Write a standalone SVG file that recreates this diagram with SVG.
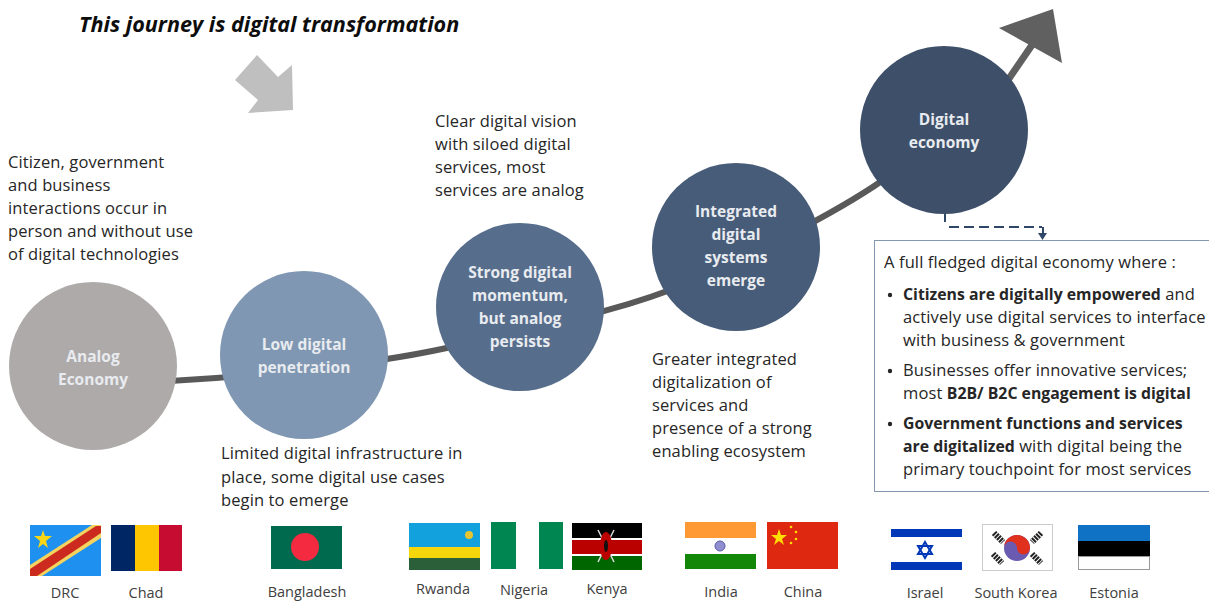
<svg xmlns="http://www.w3.org/2000/svg" width="1209" height="603" viewBox="0 0 1209 603">
<style>
text{font-family:"Open Sans","Noto Sans","DejaVu Sans",sans-serif;font-size:16.5px;letter-spacing:.12px;fill:#262626}
.n{font-weight:700;fill:#e8ebef;text-anchor:middle;font-size:15.5px;letter-spacing:0}
.c{font-size:14.5px;letter-spacing:0;fill:#404040;text-anchor:middle}
.b{font-weight:700;font-size:15.8px;letter-spacing:0}
.conn{fill:none;stroke:#595959;stroke-width:6}
</style>
<rect width="1209" height="603" fill="#fff"/>
<text id="title" x="79" y="32" style="font-size:21.6px;letter-spacing:0;font-weight:700;font-style:italic;fill:#0d0d0d">This journey is digital transformation</text>
<polygon id="down-arrow" points="257,55 235,80 258,100 248,113 293,110 292,65 278,77" fill="#bfbfbf"/>
<g id="connectors">
<path class="conn" d="M170 381C260 376 380 364 460 345S620 312 690 282S850 205 890 175"/>
<path class="conn" style="stroke-width:7;stroke:#606060" d="M1008 80L1032 45"/>
<polygon points="1053,9 999,28 1062,63" fill="#606060"/>
<path d="M945 213V222" fill="none" stroke="#2f4668" stroke-width="2"/>
<path d="M949 227H1042" fill="none" stroke="#2f4668" stroke-width="2" stroke-dasharray="10 5"/>
<path d="M1043 227V234" fill="none" stroke="#2f4668" stroke-width="2"/>
<polygon points="1038,233 1047,233 1042.500,240" fill="#2f4668"/>
</g>
<g id="node-analog"><circle cx="93" cy="366" r="84" fill="#aeaaaa"/><text class="n" x="93" y="362">Analog</text><text class="n" x="93" y="385">Economy</text></g>
<g id="node-low"><circle cx="304" cy="355" r="84" fill="#7f97b2"/><text class="n" x="304" y="350">Low digital</text><text class="n" x="304" y="373">penetration</text></g>
<g id="node-strong"><circle cx="520" cy="307" r="84" fill="#566d8c"/><text class="n" x="520" y="278">Strong digital</text><text class="n" x="520" y="301">momentum,</text><text class="n" x="520" y="324">but analog</text><text class="n" x="520" y="347">persists</text></g>
<g id="node-integrated"><circle cx="736" cy="247" r="84" fill="#475c78"/><text class="n" x="736" y="217">Integrated</text><text class="n" x="736" y="240">digital</text><text class="n" x="736" y="263">systems</text><text class="n" x="736" y="286">emerge</text></g>
<g id="node-digital"><circle cx="944" cy="130" r="84" fill="#3e5069"/><text class="n" x="944" y="125">Digital</text><text class="n" x="944" y="148">economy</text></g>
<g id="text-analog"><text x="8" y="168">Citizen, government</text><text x="8" y="191">and business</text><text x="8" y="214">interactions occur in</text><text x="8" y="237">person and without use</text><text x="8" y="260">of digital technologies</text></g>
<g id="text-low"><text x="221" y="459">Limited digital infrastructure in</text><text x="221" y="483">place, some digital use cases</text><text x="221" y="506">begin to emerge</text></g>
<g id="text-strong"><text x="435" y="127">Clear digital vision</text><text x="435" y="150">with siloed digital</text><text x="435" y="173">services, most</text><text x="435" y="196">services are analog</text></g>
<g id="text-integrated"><text x="652" y="365">Greater integrated</text><text x="652" y="388">digitalization of</text><text x="652" y="411">services and</text><text x="652" y="434">presence of a strong</text><text x="652" y="457">enabling ecosystem</text></g>
<g id="info-box"><rect x="874.500" y="240.500" width="340" height="251" fill="#fff" stroke="#8497b0"/>
<text x="884" y="268">A full fledged digital economy where :</text>
<circle cx="890" cy="295" r="2.200" fill="#262626"/><text x="903" y="300"><tspan class="b">Citizens are digitally empowered</tspan> and</text><text x="903" y="323">actively use digital services to interface</text><text x="903" y="346">with business &amp; government</text>
<circle cx="890" cy="371" r="2.200" fill="#262626"/><text x="903" y="376">Businesses offer innovative services;</text><text x="903" y="399">most <tspan class="b">B2B/ B2C engagement is digital</tspan></text>
<circle cx="890" cy="424" r="2.200" fill="#262626"/><text x="903" y="429" class="b">Government functions and services</text><text x="903" y="452"><tspan class="b">are digitalized</tspan> with digital being the</text><text x="903" y="475">primary touchpoint for most services</text></g>
<g id="flag-drc"><rect x="30" y="525" width="71" height="51" fill="#1e90f0"/><path d="M30 565L92 525H101V538L42 576H30Z" fill="#f4d35e"/><path d="M30 569L96 526H101V533L37 576H30Z" fill="#cc2a1e"/><polygon points="43,530 45,536 52,536 46,541 48,548 43,544 38,548 40,541 34,536 41,536" fill="#f7d618"/></g>
<g id="flag-chad"><rect x="111" y="525" width="24" height="46" fill="#002664"/><rect x="135" y="525" width="24" height="46" fill="#fec600"/><rect x="159" y="525" width="23" height="46" fill="#c60c30"/></g>
<g id="flag-bangladesh"><rect x="271" y="526" width="71" height="43" fill="#006a4e"/><ellipse cx="305" cy="547" rx="14" ry="14" fill="#f42a41"/></g>
<g id="flag-rwanda"><rect x="409" y="523" width="71" height="24" fill="#12a1dc"/><rect x="409" y="547" width="71" height="11" fill="#f5d60a"/><rect x="409" y="558" width="71" height="12" fill="#2a5f3a"/><circle cx="469" cy="535" r="4" fill="#e5c630"/></g>
<g id="flag-nigeria"><rect x="491" y="522" width="25" height="47" fill="#008751"/><rect x="539" y="522" width="24" height="47" fill="#008751"/></g>
<g id="flag-kenya"><rect x="572" y="523" width="70" height="15" fill="#000"/><rect x="572" y="540" width="70" height="14" fill="#b00"/><rect x="572" y="556" width="70" height="14" fill="#060"/><path d="M598 530L614 562M614 530L598 562" stroke="#ddd" stroke-width="1.500"/><ellipse cx="606" cy="546" rx="6" ry="14" fill="#b00"/><ellipse cx="606" cy="546" rx="2" ry="6" fill="#111"/></g>
<g id="flag-india"><rect x="685" y="522" width="71" height="16" fill="#ff9933"/><rect x="685" y="554" width="71" height="15" fill="#138808"/><circle cx="720" cy="546" r="5" fill="#8f8fcf" stroke="#5a5aa8"/></g>
<g id="flag-china"><rect x="767" y="522" width="71" height="47" fill="#de2910"/><polygon points="779,529 781,535 787,535 782,539 784,545 779,541 774,545 776,539 771,535 777,535" fill="#ffde00"/><g fill="#ffde00"><circle cx="791" cy="527" r="1.300"/><circle cx="796" cy="532" r="1.300"/><circle cx="796" cy="539" r="1.300"/><circle cx="791" cy="543" r="1.300"/></g></g>
<g id="flag-israel"><rect x="891" y="529" width="71" height="8" fill="#0038b8"/><rect x="891" y="562" width="71" height="8" fill="#0038b8"/><g fill="none" stroke="#0038b8" stroke-width="2"><polygon points="925,542 932,554 918,554"/><polygon points="925,558 932,546 918,546"/></g></g>
<g id="flag-south-korea"><rect x="982.500" y="524.500" width="70" height="46" fill="#fff" stroke="#ccc"/><circle cx="1017" cy="548" r="13" fill="#6a5bb0"/><path d="M1004 548A13 13 0 0 1 1030 548A6.500 6.500 0 0 1 1017 548A6.500 6.500 0 0 0 1004 548Z" fill="#e0301e"/><g stroke="#222" stroke-width="6" stroke-dasharray="2 1"><path d="M994 533L1003 542"/><path d="M1033 533L1042 542" transform="rotate(90 1037 537)"/><path d="M994 563L1003 554" transform="rotate(90 998 558)"/><path d="M1032 554L1041 563"/></g></g>
<g id="flag-estonia"><rect x="1078" y="525" width="72" height="16" fill="#0f72c4"/><rect x="1078" y="541" width="72" height="15" fill="#000"/><rect x="1078.500" y="556.500" width="71" height="13" fill="#fff" stroke="#999"/></g>
<g id="flag-labels"><text class="c" x="65" y="598">DRC</text><text class="c" x="146" y="598">Chad</text><text class="c" x="307" y="597">Bangladesh</text><text class="c" x="443" y="594">Rwanda</text><text class="c" x="524" y="595">Nigeria</text><text class="c" x="607" y="594">Kenya</text><text class="c" x="721" y="597">India</text><text class="c" x="803" y="597">China</text><text class="c" x="925" y="598">Israel</text><text class="c" x="1016" y="598">South Korea</text><text class="c" x="1114" y="598">Estonia</text></g>
</svg>
